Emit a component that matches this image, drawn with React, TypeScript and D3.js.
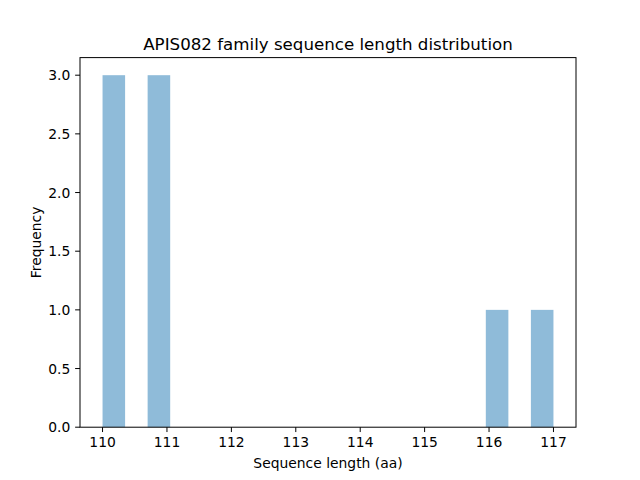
import * as d3 from 'd3'

// raw sequence lengths of the family members
const LENGTHS = [110, 110, 110, 111, 111, 111, 116, 117]
const N_BINS = 20
const X_TICKS = [110, 111, 112, 113, 114, 115, 116, 117]
const Y_TICKS = [0, 0.5, 1, 1.5, 2, 2.5, 3]

const TITLE = 'APIS082 family sequence length distribution'
const X_LABEL = 'Sequence length (aa)'
const Y_LABEL = 'Frequency'

const W = 640
const H = 480
const M = { left: 80, right: 64, top: 57.6, bottom: 52.8 }
const FONT = 'DejaVu Sans, sans-serif'
const FS = 13.89
const TICK = 4.86

function histogram(values: number[], n: number) {
  const lo = d3.min(values) ?? 0
  const hi = d3.max(values) ?? 1
  const w = (hi - lo) / n
  const counts = new Array(n).fill(0)
  values.forEach((v) => {
    const i = Math.min(n - 1, Math.floor((v - lo) / w + 1e-9))
    counts[i] += 1
  })
  return counts.map((c, i) => ({ x0: lo + i * w, x1: lo + (i + 1) * w, count: c }))
}

export default function App() {
  const bins = histogram(LENGTHS, N_BINS)
  const lo = bins[0].x0
  const hi = bins[bins.length - 1].x1
  const pad = (hi - lo) * 0.05
  const maxCount = d3.max(bins, (b) => b.count) ?? 1

  const x = d3.scaleLinear().domain([lo - pad, hi + pad]).range([M.left, W - M.right])
  const y = d3.scaleLinear().domain([0, maxCount * 1.05]).range([H - M.bottom, M.top])

  const x0 = M.left
  const x1 = W - M.right
  const y0 = H - M.bottom
  const y1 = M.top

  return (
    <svg
      width={W}
      height={H}
      style={{ position: 'absolute', left: 0, top: 0, background: '#fff' }}
      fontFamily={FONT}
    >
      <rect x={0} y={0} width={W} height={H} fill="#fff" />
      {bins
        .filter((b) => b.count > 0)
        .map((b, i) => (
          <rect
            key={i}
            x={x(b.x0)}
            y={y(b.count)}
            width={x(b.x1) - x(b.x0)}
            height={y(0) - y(b.count)}
            fill="#1f77b4"
            fillOpacity={0.5}
          />
        ))}
      <rect x={x0} y={y1} width={x1 - x0} height={y0 - y1} fill="none" stroke="#000" strokeWidth={1} />
      {X_TICKS.map((t) => (
        <g key={t} transform={`translate(${x(t)},${y0})`}>
          <line y1={0} y2={TICK} stroke="#000" strokeWidth={1} />
          <text y={TICK + 4.86} textAnchor="middle" dominantBaseline="hanging" fontSize={FS} fill="#000">
            {t}
          </text>
        </g>
      ))}
      {Y_TICKS.map((t) => (
        <g key={t} transform={`translate(${x0},${y(t)})`}>
          <line x1={0} x2={-TICK} stroke="#000" strokeWidth={1} />
          <text x={-TICK - 4.86} textAnchor="end" dominantBaseline="central" fontSize={FS} fill="#000">
            {d3.format('.1f')(t)}
          </text>
        </g>
      ))}
      <text x={(x0 + x1) / 2} y={49.5} textAnchor="middle" fontSize={16.67} fill="#000">
        {TITLE}
      </text>
      <text x={(x0 + x1) / 2} y={467.5} textAnchor="middle" fontSize={FS} fill="#000">
        {X_LABEL}
      </text>
      <text
        transform={`translate(40.5,${(y0 + y1) / 2}) rotate(-90)`}
        textAnchor="middle"
        fontSize={FS}
        fill="#000"
      >
        {Y_LABEL}
      </text>
    </svg>
  )
}
